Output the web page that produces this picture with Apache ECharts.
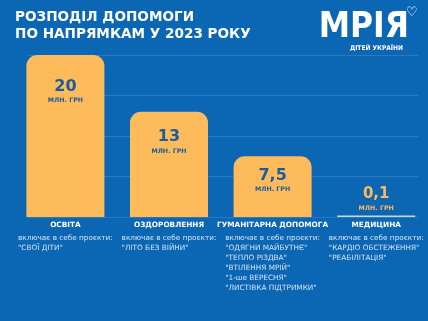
<!DOCTYPE html>
<html><head><meta charset="utf-8">
<script src="https://cdn.jsdelivr.net/npm/echarts@6/dist/echarts.min.js"></script>
<style>html,body{margin:0;padding:0;background:#0b66b4;}#c{width:428px;height:321px;}</style>
</head><body><div id="c"></div>
<script>
// ---- data ----
const categories = ['ОСВІТА', 'ОЗДОРОВЛЕННЯ', 'ГУМАНІТАРНА ДОПОМОГА', 'МЕДИЦИНА'];
const values = [20, 13, 7.5, 0.1];
const valueLabels = ['20', '13', '7,5', '0,1'];
const unitLabel = 'МЛН. ГРН';
const descriptionIntro = 'включає в себе проєкти:';
const projects = [
  ['"СВОЇ ДІТИ"'],
  ['"ЛІТО БЕЗ ВІЙНИ"'],
  ['"ОДЯГНИ МАЙБУТНЄ"', '"ТЕПЛО РІЗДВА"', '"ВТІЛЕННЯ МРІЙ"', '"1-ше ВЕРЕСНЯ"', '"ЛИСТІВКА ПІДТРИМКИ"'],
  ['"КАРДІО ОБСТЕЖЕННЯ"', '"РЕАБІЛІТАЦІЯ"']
];
const yTicks = [0, 5, 10, 15, 20];
const titleLines = ['РОЗПОДІЛ ДОПОМОГИ', 'ПО НАПРЯМКАМ У 2023 РОКУ'];
const logoText = 'МРІЯ';
const logoSub = 'ДІТЕЙ УКРАЇНИ';

// ---- style ----
const BG = '#0b66b4', BAR = '#fdbb5b', DARK = '#1d5c9b', LIGHT = '#d3e5f6';
const BOLD = '"DejaVu Sans", sans-serif';
const COND = '"DejaVu Sans Condensed", "DejaVu Sans", sans-serif';
const labelDist = [23, 17, 11];

const chart = echarts.init(document.getElementById('c'), null, {renderer: 'canvas'});

const barData = values.map((v, i) => {
  if (v < 1) {
    return {
      value: v,
      itemStyle: {color: '#c9d5df', borderRadius: 0},
      label: {show: true, position: 'top', distance: 2,
        formatter: '{n|' + valueLabels[i] + '}\n{u|' + unitLabel + '}',
        rich: {n: {color: BAR, fontSize: 15, fontWeight: 'bold', fontFamily: BOLD, lineHeight: 16, align: 'center'},
               u: {color: BAR, fontSize: 6.3, fontWeight: 'bold', fontFamily: BOLD, lineHeight: 11, align: 'center'}}}
    };
  }
  return {
    value: v,
    label: {show: true, position: 'insideTop', distance: labelDist[i],
      formatter: '{n|' + valueLabels[i] + '}\n{u|' + unitLabel + '}',
      rich: {n: {color: DARK, fontSize: 16, fontWeight: 'bold', fontFamily: BOLD, lineHeight: 17, align: 'center'},
             u: {color: DARK, fontSize: 6.3, fontWeight: 'bold', fontFamily: BOLD, lineHeight: 11, align: 'center'}}}
  };
});

const titleStyle = {color: '#fff', fontSize: 13.6, fontWeight: 'bold', fontFamily: BOLD};
const option = {
  backgroundColor: BG,
  animation: false,
  title: [
    {text: titleLines[0], left: 15, top: 10, padding: 0, textStyle: titleStyle},
    {text: titleLines[1], left: 15, top: 27, padding: 0, textStyle: titleStyle},
    {text: logoText, right: 14, top: 5,
     textStyle: {color: '#fff', fontSize: 35, fontWeight: 'bold', fontFamily: COND, lineHeight: 36}},
    {text: logoSub, right: 20, top: 40,
     textStyle: {color: '#fff', fontSize: 6.6, fontWeight: 'bold', fontFamily: COND}}
  ],
  graphic: [{type: 'text', left: 406, top: 6,
    style: {text: '♡', fill: '#fff', font: 'bold 13px "DejaVu Sans"'}}],
  grid: [
    {left: 27, right: 10, top: 55, bottom: 104},
    {left: 13.6, width: 418, top: 55, bottom: 104}
  ],
  xAxis: [
    {gridIndex: 0, type: 'category', data: categories, show: false},
    {gridIndex: 1, type: 'category', data: categories,
     axisLine: {show: false}, axisTick: {show: false},
     axisLabel: {interval: 0, margin: 5, color: '#fff', fontSize: 7.3, fontWeight: 'bold', fontFamily: BOLD}},
    {gridIndex: 1, type: 'category', data: categories, position: 'bottom', offset: 16,
     axisLine: {show: false}, axisTick: {show: false},
     axisLabel: {interval: 0, margin: 0, verticalAlign: 'top',
       formatter: (v, i) => [descriptionIntro].concat(projects[i]).map(s => '{d|' + s + '}').join('\n'),
       rich: {d: {color: LIGHT, fontSize: 7.3, fontFamily: '"DejaVu Sans", sans-serif', lineHeight: 10, align: 'left'}}}}
  ],
  yAxis: [
    {gridIndex: 0, type: 'value', min: yTicks[0], max: yTicks[yTicks.length - 1], interval: yTicks[1] - yTicks[0],
     axisLabel: {show: false}, axisLine: {show: false}, axisTick: {show: false},
     splitLine: {lineStyle: {color: 'rgba(255,255,255,0.13)', width: 1}}},
    {gridIndex: 1, type: 'value', min: yTicks[0], max: yTicks[yTicks.length - 1], interval: yTicks[1] - yTicks[0],
     show: false, splitLine: {show: false}}
  ],
  series: [{
    type: 'bar', xAxisIndex: 1, yAxisIndex: 1, data: barData,
    barWidth: 78, barMinHeight: 1.5,
    itemStyle: {color: BAR, borderRadius: [11, 11, 0, 0]}
  }]
};
chart.setOption(option);
</script></body></html>
